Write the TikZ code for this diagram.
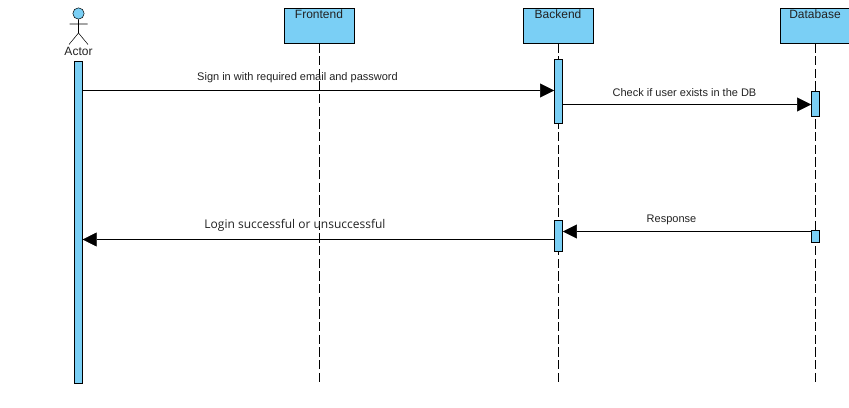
\documentclass[tikz,border=0pt]{standalone}
\usepackage{fontspec}
\setmainfont{Liberation Sans}
\newfontfamily\loginfont{Open Sans}
\usetikzlibrary{arrows.meta,positioning}
\definecolor{barblue}{HTML}{7ACFF5}
\definecolor{inktext}{HTML}{222222}
\tikzset{
line width=0.75pt,
>={Triangle[length=10.5pt,width=10.5pt]},
lifebox/.style={draw,rectangle,fill=barblue,minimum width=52.5pt,inner sep=0pt,text=inktext,font=\fontsize{9}{10}\selectfont,text height=8pt,text depth=18.5pt},
bar/.style={draw,rectangle,fill=barblue,minimum width=6.2pt,inner sep=0pt},
lifeline/.style={dash pattern=on 7pt off 2.5pt},
msg/.style={->},
msgtext/.style={text=inktext,font=\fontsize{8.25}{9}\selectfont,inner sep=0pt}
}
\begin{document}
\begin{tikzpicture}[x=0.75pt,y=-0.75pt]
\useasboundingbox (0,0) rectangle (849,407);
% heads
\node[lifebox] (frontend) at (319,25.5) {Frontend};
\node[lifebox] (backend)  at (558,25.5) {Backend};
\node[lifebox] (database) at (815,25.5) {Database};

% actor
\node[draw,circle,fill=barblue,minimum size=8.5pt,inner sep=0pt] (head) at (78.5,13.5) {};
\coordinate (hip)   at (78.5,33);
\coordinate (armL)  at (69.5,24);
\coordinate (armR)  at (87.5,24);
\coordinate (legL)  at (69,44.5);
\coordinate (legR)  at (88,44.5);
\draw (head) -- (hip) (armL) -- (armR) (legL) -- (hip) -- (legR);
\node[text=inktext,font=\fontsize{9}{10}\selectfont,inner sep=0pt] (actor) at (78.5,51) {Actor};

% lifelines
\coordinate (frontendEnd) at (319,382);
\coordinate (backendEnd)  at (558,382);
\coordinate (databaseEnd) at (815,382);
\draw[lifeline] (frontend) -- (frontendEnd);
\draw[lifeline] (backend)  -- (backendEnd);
\draw[lifeline] (database) -- (databaseEnd);

% activation bars
\node[bar,minimum height=241.5pt] (actorbar) at (78.3,222) {};
\node[bar,minimum height=48.4pt]  (backbarA) at (558.5,91.2) {};
\node[bar,minimum height=18.8pt]  (databarA) at (815.5,103.5) {};
\node[bar,minimum height=23.2pt]  (backbarB) at (558.5,236) {};
\node[bar,minimum height=9.4pt]   (databarB) at (815.5,236.2) {};

% messages
\coordinate (signY)     at (0,90.5);
\coordinate (checkY)    at (0,104.5);
\coordinate (responseY) at (0,231.5);
\coordinate (loginY)    at (0,239.5);
\draw[msg] (actorbar.east |- signY) -- (backbarA.west |- signY);
\draw[msg] (backbarA.east |- checkY) -- (databarA.west |- checkY);
\draw[msg] (databarB.west |- responseY) -- (backbarB.east |- responseY);
\draw[msg] (backbarB.west |- loginY) -- (actorbar.east |- loginY);

\node[msgtext] (signtext)     at (297.5,77.5)  {Sign in with required email and password};
\node[msgtext] (checktext)    at (684.5,93)  {Check if user exists in the DB};
\node[msgtext] (responsetext) at (671.5,220) {Response};
\node[text=inktext,font=\loginfont\fontsize{9}{10}\selectfont,inner sep=0pt] (logintext) at (295,225) {Login successful or unsuccessful};
\end{tikzpicture}
\end{document}
